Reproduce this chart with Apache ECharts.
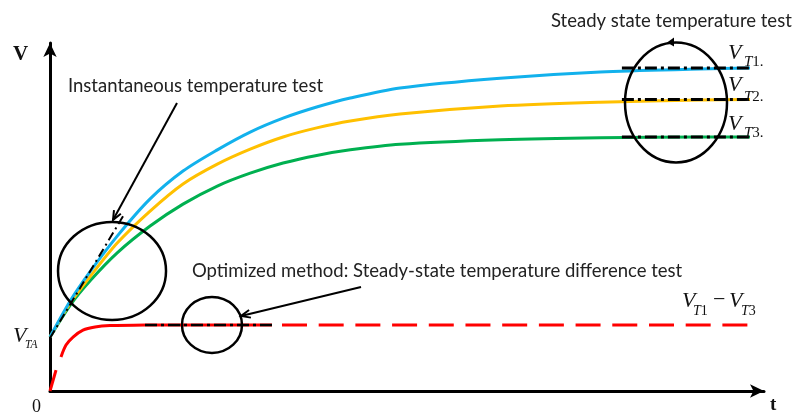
<!DOCTYPE html>
<html>
<head>
<meta charset="utf-8">
<script src="https://cdn.jsdelivr.net/npm/echarts@6/dist/echarts.min.js"></script>
<style>
  html, body { margin: 0; padding: 0; background: #fff; }
  #chart { width: 792px; height: 413px; }
</style>
</head>
<body>
<div id="chart"></div>
<script>
// Sample times (arbitrary units) shared by the three sensor output curves
const timePoints = [0, 2.9, 5.7, 9.6, 14.3, 19, 23.9, 28.6, 33.3, 38.1, 42.9, 50, 64.3, 78.6, 92.9, 100];
// Sensor output voltage V for three temperatures T1 > T2 > T3
const voltT1 = [15.5, 25.9, 34.2, 44.5, 55.2, 63.2, 69.3, 74.4, 78.4, 81.6, 84.2, 87.1, 89.9, 91.7, 92.5, 92.8];
const voltT2 = [15.5, 25.3, 32.8, 42.5, 51.7, 59.5, 65.2, 69.5, 73.0, 75.6, 77.6, 79.6, 81.9, 83.0, 83.6, 83.8];
const voltT3 = [15.5, 24.7, 31.6, 39.7, 47.4, 53.7, 58.9, 62.6, 65.5, 67.7, 69.3, 70.9, 72.2, 72.8, 73.0, 73.0];

// Difference signal V_T1 - V_T3: initial rise and its settling curve
const diffRiseTime = [0, 0.86];
const diffRiseVolt = [0, 6.0];
const diffCurveTime = [1.57, 2.29, 3.29, 4.71, 6.43, 8.57, 13.57];
const diffCurveVolt = [9.8, 13.2, 15.5, 17.5, 18.4, 18.8, 19.0];
const diffSteady = 19.0;
const diffTestSpan = [13.57, 31.71];   // window of the difference test
const diffTailSpan = [33.14, 100];

// Steady-state reading window and the instantaneous tangent
const steadySpan = [81.7, 100];
const tangentTime = [0, 10.7];
const tangentVolt = [15.2, 51.1];

const pairs = (xs, ys) => xs.map((x, i) => [x, ys[i]]);
const flat = (span, v) => [[span[0], v], [span[1], v]];
const last = a => a[a.length - 1];

const blue = '#12B1EC', yellow = '#FFC000', green = '#00B050', red = '#FF0000';
const dashDot = [12, 4, 3, 4];

function line(data, color, width, extra) {
  return Object.assign({
    type: 'line', data: data, symbol: 'none', animation: false, silent: true,
    lineStyle: { color: color, width: width, cap: 'butt' }
  }, extra || {});
}

const chart = echarts.init(document.getElementById('chart'), null, { renderer: 'canvas' });

const axisCommon = {
  type: 'value',
  axisLine: { show: true, onZero: false, lineStyle: { color: '#000', width: 3 },
              symbol: ['none', 'arrow'], symbolSize: [10, 14] },
  axisTick: { show: false }, axisLabel: { show: false }, splitLine: { show: false }
};

const curve = { smooth: 0.3 };

chart.setOption({
  animation: false,
  grid: { left: 50, right: 28, top: 43, bottom: 22 },
  xAxis: Object.assign({ min: 0, max: 102 }, axisCommon),
  yAxis: Object.assign({ min: 0, max: 100 }, axisCommon),
  series: [
    line(pairs(timePoints, voltT3), green, 3, Object.assign({ z: 2 }, curve)),
    line(pairs(timePoints, voltT2), yellow, 3, Object.assign({ z: 3 }, curve)),
    line(pairs(timePoints, voltT1), blue, 3, Object.assign({ z: 4 }, curve)),
    line(pairs(diffRiseTime, diffRiseVolt), red, 3, { z: 3 }),
    line(pairs(diffCurveTime, diffCurveVolt), red, 3, Object.assign({ z: 3 }, curve)),
    line(flat(diffTestSpan, diffSteady), red, 3, { z: 3 }),
    line(flat(diffTailSpan, diffSteady), red, 3, { z: 3, lineStyle: { color: red, width: 3, type: [25, 11.7] } }),
    line(flat(diffTestSpan, diffSteady), '#000', 2.5, { z: 5, lineStyle: { color: '#000', width: 2.5, type: dashDot } }),
    line(flat(steadySpan, last(voltT1)), '#000', 3, { z: 5, lineStyle: { color: '#000', width: 3, type: dashDot } }),
    line(flat(steadySpan, last(voltT2)), '#000', 3, { z: 5, lineStyle: { color: '#000', width: 3, type: dashDot } }),
    line(flat(steadySpan, last(voltT3)), '#000', 3, { z: 5, lineStyle: { color: '#000', width: 3, type: dashDot } }),
    line(pairs(tangentTime, tangentVolt), '#000', 2, { z: 6, lineStyle: { color: '#000', width: 2, type: [9, 4, 2, 4] } })
  ]
});

// ---- annotations: circles, arrows and text ----
const toPx = (x, y) => chart.convertToPixel({ gridIndex: 0 }, [x, y]);

// circled regions, anchored in data space (radii in pixels)
const circles = [
  { at: [8.86, 34.5], rx: 54, ry: 49 },   // instantaneous test
  { at: [23.14, 19.0], rx: 30, ry: 28 },  // difference test
  { at: [89.43, 82.9], rx: 51, ry: 60 }   // steady-state test
];
// pointer arrows: from -> to (data space)
const arrows = [
  { from: [18.14, 82.76], to: [9.0, 49.14] },
  { from: [44.43, 29.89], to: [27.29, 21.55] }
];

const graphics = [];
circles.forEach(c => {
  const p = toPx(c.at[0], c.at[1]);
  graphics.push({ type: 'ellipse', silent: true, z: 10,
    shape: { cx: p[0], cy: p[1], rx: c.rx, ry: c.ry },
    style: { fill: 'none', stroke: '#000', lineWidth: 2.5 } });
});
// small direction mark on top of the steady-state circle
(function () {
  const c = circles[2];
  const p = toPx(c.at[0], c.at[1]);
  const tx = p[0] - 4, ty = p[1] - c.ry;
  graphics.push({ type: 'polygon', silent: true, z: 11,
    shape: { points: [[tx - 5, ty], [tx + 2, ty - 5], [tx + 2, ty + 4]] },
    style: { fill: '#000' } });
})();
arrows.forEach(a => {
  const f = toPx(a.from[0], a.from[1]), t = toPx(a.to[0], a.to[1]);
  const ang = Math.atan2(t[1] - f[1], t[0] - f[0]);
  const L = 10, spread = 0.4;
  const h1 = [t[0] - L * Math.cos(ang - spread), t[1] - L * Math.sin(ang - spread)];
  const h2 = [t[0] - L * Math.cos(ang + spread), t[1] - L * Math.sin(ang + spread)];
  graphics.push({ type: 'line', silent: true, z: 10,
    shape: { x1: f[0], y1: f[1], x2: t[0], y2: t[1] },
    style: { stroke: '#000', lineWidth: 2 } });
  graphics.push({ type: 'polyline', silent: true, z: 10,
    shape: { points: [h1, t, h2] },
    style: { stroke: '#000', lineWidth: 2, fill: 'none' } });
});

const sans = 'Lato, "Open Sans", sans-serif';
const serif = '"Liberation Serif", "DejaVu Serif", serif';
function txt(text, x, y, font, extra) {
  graphics.push({ type: 'text', silent: true, z: 12,
    style: Object.assign({ text: text, x: x, y: y, font: font, fill: '#111',
                           verticalAlign: 'middle', align: 'left' }, extra || {}) });
}
// captions
txt('Instantaneous temperature test', 68, 86, '18.5px ' + sans, { fill: '#222' });
txt('Steady state temperature test', 551, 21, '18.5px ' + sans, { fill: '#222' });
txt('Optimized method: Steady-state temperature difference test', 192, 271, '18.5px ' + sans, { fill: '#222' });

// axis symbols
txt('V', 13, 55, 'bold 21px ' + serif);
txt('0', 32, 407, '18px ' + serif);
txt('t', 770, 405, 'bold 19px ' + serif);

// voltage labels with subscripts
function vLabel(x, yV, yS, sub, opts) {
  const o = Object.assign({ dx: 17, size: 15, tail: '' }, opts || {});
  const rich = {
    i: { fontFamily: serif, fontStyle: 'italic', fontSize: o.size, fill: '#111' },
    n: { fontFamily: serif, fontSize: o.size, fill: '#111' }
  };
  txt('V', x, yV, 'italic 22px ' + serif);
  const letters = sub.replace(/[0-9]/g, '');
  const digits = sub.replace(/[^0-9]/g, '');
  graphics.push({ type: 'text', silent: true, z: 12,
    style: { text: '{i|' + letters + '}' + (digits ? '{n|' + digits + '}' : '') + o.tail,
             x: x + o.dx, y: yS, verticalAlign: 'middle', rich: rich,
             font: o.size + 'px ' + serif, fill: '#111' } });
}
vLabel(728, 53, 62, 'T1', { dx: 16, tail: '{n|.}' });
vLabel(728, 85, 97, 'T2', { dx: 16, tail: '{n|.}' });
vLabel(728, 124, 133, 'T3', { dx: 16, tail: '{n|.}' });
vLabel(13, 336, 345, 'TA', { dx: 12, size: 11.5 });
vLabel(682, 301, 311, 'T1', { dx: 11, size: 14 });
txt('\u2212', 713, 300, '22px ' + serif);
vLabel(729, 301, 311, 'T3', { dx: 12, size: 14 });

chart.setOption({ graphic: { elements: graphics } });
</script>
</body>
</html>
